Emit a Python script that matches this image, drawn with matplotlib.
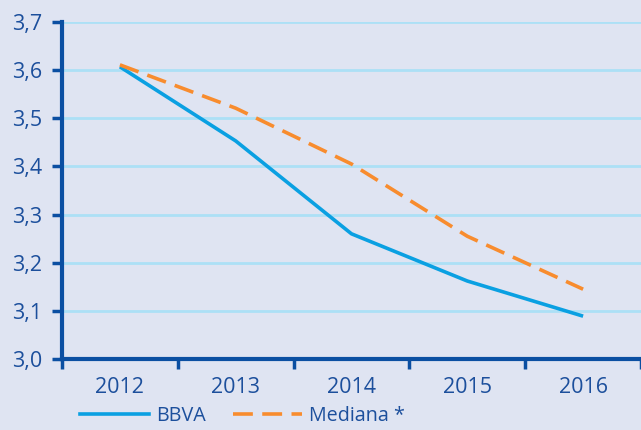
import numpy as np
import matplotlib.pyplot as plt
from matplotlib.lines import Line2D

years = ['2012', '2013', '2014', '2015', '2016']
bbva = [3.607, 3.453, 3.260, 3.162, 3.089]
mediana = [3.611, 3.521, 3.405, 3.255, 3.145]
yticks = [3.0, 3.1, 3.2, 3.3, 3.4, 3.5, 3.6, 3.7]

bg = '#dfe4f2'
dark = '#0b4fa2'
txt = '#1c4f9c'
blue = '#0aa0e2'
orange = '#f88c2e'
grid = '#ace0f6'

plt.rcParams['font.family'] = ['Open Sans', 'DejaVu Sans']

fig = plt.figure(figsize=(6.41, 4.30), dpi=100, facecolor=bg)
ax = fig.add_axes([62 / 641, 1 - 359 / 430, 1 - 62 / 641, (359 - 22) / 430])
ax.set_facecolor(bg)

x = np.arange(len(years))
ax.plot(x, bbva, color=blue, lw=2.6, solid_capstyle='butt')
ax.plot(x, mediana, color=orange, lw=2.6, dashes=(5.5, 2.6))

ax.set_xlim(-0.5, len(years) - 0.5)
ax.set_ylim(3.0, 3.7)
ax.set_yticks(yticks)
ax.set_yticklabels([f'{v:.1f}'.replace('.', ',') for v in yticks])
ax.set_xticks(x)
ax.set_xticklabels(years)
ax.set_xticks(np.arange(-0.5, len(years)), minor=True)
ax.tick_params(axis='x', which='major', length=0, pad=13, labelsize=15.5, labelcolor=txt)
ax.tick_params(axis='x', which='minor', length=7, width=2.5, color=dark, direction='out')
ax.tick_params(axis='y', length=7, width=2.5, color=dark, pad=7, labelsize=15.5, labelcolor=txt)

for y in yticks[1:]:
    ax.axhline(y, color=grid, lw=2, zorder=0)

for s in ['top', 'right']:
    ax.spines[s].set_visible(False)
for s in ['left', 'bottom']:
    ax.spines[s].set_color(dark)
    ax.spines[s].set_linewidth(3)
    ax.spines[s].set_clip_on(False)

handles = [Line2D([], [], color=blue, lw=2.6),
           Line2D([], [], color=orange, lw=2.6, dashes=(5.5, 2.6))]
fig.legend(handles, ['BBVA', 'Mediana *'], loc='lower left',
           bbox_to_anchor=(62 / 641, -0.032), ncol=2, frameon=False,
           handlelength=3.5, handletextpad=0.35, columnspacing=1.4,
           labelcolor=txt, prop={'size': 14.2})

fig.savefig('out.png', dpi=100, facecolor=bg)
